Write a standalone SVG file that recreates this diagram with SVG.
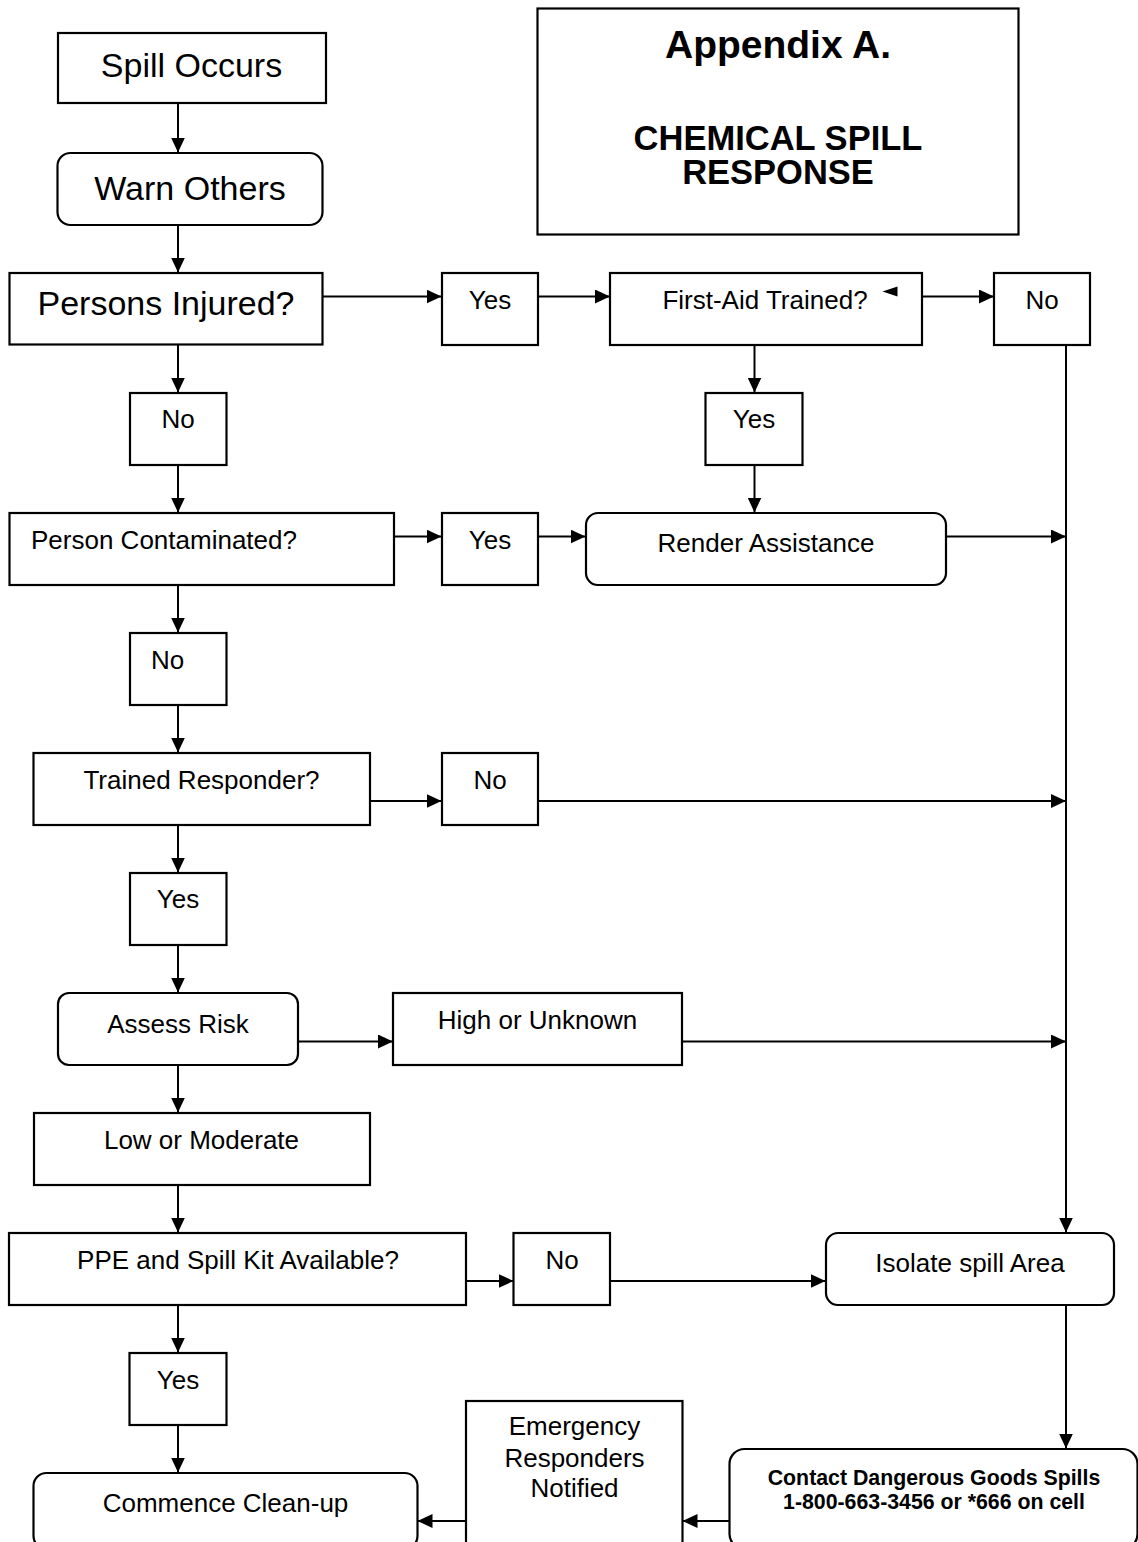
<svg xmlns="http://www.w3.org/2000/svg" width="1138" height="1542" viewBox="0 0 1138 1542">
<style>
.box{fill:#fff;stroke:#000;stroke-width:2.2}
.t{font-family:"Liberation Sans",Arial,sans-serif;font-size:26px;fill:#000}
.big{font-size:34px}
.c{text-anchor:middle}
.b{font-weight:bold}
.ln{fill:none;stroke:#000;stroke-width:2}
</style>
<defs>
<marker id="ah" markerUnits="userSpaceOnUse" markerWidth="15" markerHeight="14" refX="15" refY="7" orient="auto">
<path d="M0,0 L15,7 L0,14 z" fill="#000"/>
</marker>
</defs>
<rect width="1138" height="1542" fill="#fff"/>

<g id="connectors">
<line class="ln" x1="178" y1="103" x2="178" y2="152.5" marker-end="url(#ah)"/>
<line class="ln" x1="178" y1="225" x2="178" y2="272.5" marker-end="url(#ah)"/>
<line class="ln" x1="178" y1="344.5" x2="178" y2="392.5" marker-end="url(#ah)"/>
<line class="ln" x1="178" y1="464.5" x2="178" y2="512.5" marker-end="url(#ah)"/>
<line class="ln" x1="178" y1="584.5" x2="178" y2="632.5" marker-end="url(#ah)"/>
<line class="ln" x1="178" y1="704.5" x2="178" y2="752.5" marker-end="url(#ah)"/>
<line class="ln" x1="178" y1="824.5" x2="178" y2="872.5" marker-end="url(#ah)"/>
<line class="ln" x1="178" y1="944.5" x2="178" y2="992.5" marker-end="url(#ah)"/>
<line class="ln" x1="178" y1="1065" x2="178" y2="1112.5" marker-end="url(#ah)"/>
<line class="ln" x1="178" y1="1185" x2="178" y2="1232.5" marker-end="url(#ah)"/>
<line class="ln" x1="178" y1="1304.5" x2="178" y2="1352.5" marker-end="url(#ah)"/>
<line class="ln" x1="178" y1="1424.5" x2="178" y2="1472.5" marker-end="url(#ah)"/>
<line class="ln" x1="322" y1="296.5" x2="441.5" y2="296.5" marker-end="url(#ah)"/>
<line class="ln" x1="538" y1="296.5" x2="610" y2="296.5" marker-end="url(#ah)"/>
<line class="ln" x1="922" y1="296.5" x2="994" y2="296.5" marker-end="url(#ah)"/>
<line class="ln" x1="754.5" y1="344.5" x2="754.5" y2="392.5" marker-end="url(#ah)"/>
<line class="ln" x1="754.5" y1="464.5" x2="754.5" y2="512.5" marker-end="url(#ah)"/>
<line class="ln" x1="394" y1="536.5" x2="441.5" y2="536.5" marker-end="url(#ah)"/>
<line class="ln" x1="538" y1="536.5" x2="585.5" y2="536.5" marker-end="url(#ah)"/>
<line class="ln" x1="946" y1="536.5" x2="1066" y2="536.5" marker-end="url(#ah)"/>
<line class="ln" x1="1066" y1="344.5" x2="1066" y2="1232.5" marker-end="url(#ah)"/>
<line class="ln" x1="370" y1="801" x2="441.5" y2="801" marker-end="url(#ah)"/>
<line class="ln" x1="538" y1="801" x2="1066" y2="801" marker-end="url(#ah)"/>
<line class="ln" x1="298" y1="1041.5" x2="393" y2="1041.5" marker-end="url(#ah)"/>
<line class="ln" x1="682" y1="1041.5" x2="1066" y2="1041.5" marker-end="url(#ah)"/>
<line class="ln" x1="466" y1="1281" x2="513.5" y2="1281" marker-end="url(#ah)"/>
<line class="ln" x1="610" y1="1281" x2="825.5" y2="1281" marker-end="url(#ah)"/>
<line class="ln" x1="1066" y1="1305" x2="1066" y2="1448.5" marker-end="url(#ah)"/>
<line class="ln" x1="729.5" y1="1521" x2="682.5" y2="1521" marker-end="url(#ah)"/>
<line class="ln" x1="465.5" y1="1521" x2="417.5" y2="1521" marker-end="url(#ah)"/>
</g>

<g id="title">
<rect class="box" x="537.5" y="8.5" width="481" height="226"/>
<text class="t b c" x="778" y="57.5" style="font-size:39px">Appendix A.</text>
<text class="t b c" x="778" y="150" style="font-size:34.5px">CHEMICAL SPILL</text>
<text class="t b c" x="778" y="184" style="font-size:34.5px">RESPONSE</text>
</g>

<g id="spill-occurs">
<rect class="box" x="58" y="33" width="268" height="70"/>
<text class="t big c" x="191.5" y="76.5">Spill Occurs</text>
</g>
<g id="warn-others">
<rect class="box" x="57.5" y="153" width="265" height="72" rx="13"/>
<text class="t big c" x="190" y="200">Warn Others</text>
</g>
<g id="persons-injured">
<rect class="box" x="9.5" y="273" width="313" height="71.5"/>
<text class="t big c" x="166" y="315">Persons Injured?</text>
</g>
<g id="yes-injured">
<rect class="box" x="442" y="273" width="96" height="72"/>
<text class="t c" x="490" y="309">Yes</text>
</g>
<g id="first-aid">
<rect class="box" x="610" y="273" width="312" height="72"/>
<text class="t c" x="765" y="309">First-Aid Trained?</text>
<polygon points="882.5,291.5 897.5,286.5 897.5,296.5" fill="#000"/>
</g>
<g id="no-first-aid">
<rect class="box" x="994" y="273" width="96" height="72"/>
<text class="t c" x="1042" y="309">No</text>
</g>
<g id="no-injured">
<rect class="box" x="130" y="393" width="96.5" height="72"/>
<text class="t c" x="178" y="428">No</text>
</g>
<g id="yes-first-aid">
<rect class="box" x="705.5" y="393" width="97" height="72"/>
<text class="t c" x="754" y="428">Yes</text>
</g>
<g id="person-contaminated">
<rect class="box" x="9.5" y="513" width="384.5" height="72"/>
<text class="t" x="31" y="549">Person Contaminated?</text>
</g>
<g id="yes-contaminated">
<rect class="box" x="442" y="513" width="96" height="72"/>
<text class="t c" x="490" y="549">Yes</text>
</g>
<g id="render-assistance">
<rect class="box" x="586" y="513" width="360" height="72" rx="12"/>
<text class="t c" x="766" y="552">Render Assistance</text>
</g>
<g id="no-contaminated">
<rect class="box" x="130" y="633" width="96.5" height="72"/>
<text class="t c" x="167.5" y="669">No</text>
</g>
<g id="trained-responder">
<rect class="box" x="33.5" y="753" width="336.5" height="72"/>
<text class="t c" x="201.5" y="788.5">Trained Responder?</text>
</g>
<g id="no-trained">
<rect class="box" x="442" y="753" width="96" height="72"/>
<text class="t c" x="490" y="788.5">No</text>
</g>
<g id="yes-trained">
<rect class="box" x="130" y="873" width="96.5" height="72"/>
<text class="t c" x="178" y="907.5">Yes</text>
</g>
<g id="assess-risk">
<rect class="box" x="58" y="993" width="240" height="72" rx="11"/>
<text class="t c" x="178" y="1032.5">Assess Risk</text>
</g>
<g id="high-unknown">
<rect class="box" x="393" y="993" width="289" height="72"/>
<text class="t c" x="537.5" y="1028.5">High or Unknown</text>
</g>
<g id="low-moderate">
<rect class="box" x="34" y="1113" width="336" height="72"/>
<text class="t c" x="201.5" y="1148.5">Low or Moderate</text>
</g>
<g id="ppe-available">
<rect class="box" x="9" y="1233" width="457" height="72"/>
<text class="t c" x="238" y="1268.5">PPE and Spill Kit Available?</text>
</g>
<g id="no-ppe">
<rect class="box" x="513.5" y="1233" width="96.5" height="72"/>
<text class="t c" x="562" y="1268.5">No</text>
</g>
<g id="isolate">
<rect class="box" x="826" y="1233" width="288" height="72" rx="12"/>
<text class="t c" x="970" y="1272">Isolate spill Area</text>
</g>
<g id="yes-ppe">
<rect class="box" x="129.5" y="1353" width="97" height="72"/>
<text class="t c" x="178" y="1388.5">Yes</text>
</g>
<g id="commence">
<rect class="box" x="33.5" y="1473" width="384" height="76" rx="13"/>
<text class="t c" x="225.5" y="1511.5">Commence Clean-up</text>
</g>
<g id="emergency">
<rect class="box" x="466" y="1401" width="216.5" height="160"/>
<text class="t c" x="574.5" y="1435">Emergency</text>
<text class="t c" x="574.5" y="1466.5">Responders</text>
<text class="t c" x="574.5" y="1497">Notified</text>
</g>
<g id="contact">
<rect class="box" x="729.5" y="1449" width="408" height="100" rx="15"/>
<text class="t b c" x="934" y="1485" style="font-size:21.3px">Contact Dangerous Goods Spills</text>
<text class="t b c" x="934" y="1508.5" style="font-size:21.3px">1-800-663-3456 or *666 on cell</text>
</g>
</svg>
